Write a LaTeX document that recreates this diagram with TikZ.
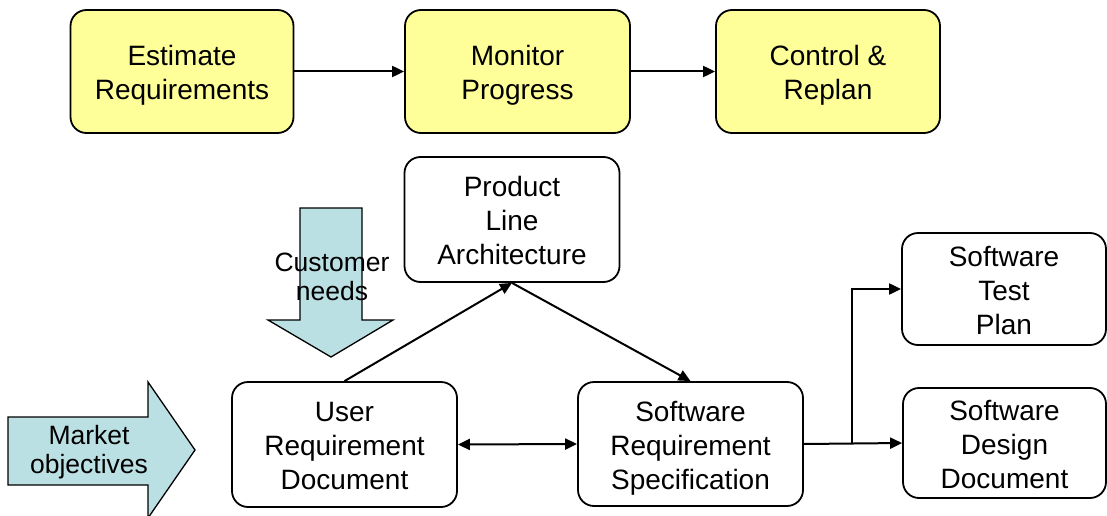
\documentclass[tikz,border=0pt]{standalone}
\usepackage{fontspec}
\setmainfont{Liberation Sans}
\usetikzlibrary{arrows.meta}
\definecolor{boxyellow}{RGB}{255,255,153}
\definecolor{arrowcyan}{RGB}{187,224,228}
\newcommand{\bxt}[1]{\raisebox{-4.5pt}[\height][\depth]{\begin{tabular}{@{}c@{}}#1\end{tabular}}}
\begin{document}
\begin{tikzpicture}[x=1pt,y=-1pt,
  box/.style={draw=black, line width=1.8pt, rounded corners=16pt,
    inner sep=0pt, font=\fontsize{28}{34}\selectfont},
  ybox/.style={box, fill=boxyellow},
  wbox/.style={box, fill=white},
  conn/.style={line width=2pt, -{Triangle[length=12pt,width=11pt]}},
  blk/.style={draw=black, line width=1.3pt, fill=arrowcyan},
  lbl/.style={align=center, inner sep=0pt, font=\fontsize{26.5}{29}\selectfont}]
\useasboundingbox (0,0) rectangle (1107,516);
\fill[white] (0,0) rectangle (1107,516);

% block arrows
\draw[blk] (8,417) -- (148,417) -- (148,382) -- (195,450) -- (148,518) -- (148,485) -- (8,485) -- cycle;
\draw[blk] (300,208) -- (362,208) -- (362,320) -- (393,320) -- (331,357) -- (268,320) -- (300,320) -- cycle;
\node[lbl] (mkt) at (89,452) {Market\\objectives};
\node[lbl] (cust) at (332,277) {Customer\\needs};

% top row
\node[ybox, minimum width=223pt, minimum height=123pt] (est) at (182,71.5) {\bxt{Estimate\\Requirements}};
\node[ybox, minimum width=225pt, minimum height=123pt] (mon) at (517.5,71.5) {\bxt{Monitor\\Progress}};
\node[ybox, minimum width=224pt, minimum height=123pt] (ctl) at (828,71.5) {\bxt{Control \&\\Replan}};
\draw[conn] (est) -- (mon);
\draw[conn] (mon) -- (ctl);

% lower part
\node[wbox, minimum width=215pt, minimum height=125pt] (pla) at (512,219.5) {\bxt{Product\\Line\\Architecture}};
\node[wbox, minimum width=225pt, minimum height=125pt] (urd) at (344.5,444.5) {\bxt{User\\Requirement\\Document}};
\node[wbox, minimum width=225pt, minimum height=124pt] (srs) at (690.5,444) {\bxt{Software\\Requirement\\Specification}};
\node[wbox, minimum width=204pt, minimum height=112pt] (stp) at (1004,289) {\bxt{Software\\Test\\Plan}};
\node[wbox, minimum width=203pt, minimum height=110pt] (sdd) at (1004.5,443) {\bxt{Software\\Design\\Document}};

\draw[conn] (urd.north) -- (pla.south);
\draw[conn] (pla.south) -- (srs.north);
\draw[conn, {Triangle[length=12pt,width=11pt]}-{Triangle[length=12pt,width=11pt]}] (urd.east) -- (srs.west);
\draw[conn] (srs.east) -- (sdd.west);
\coordinate (br) at (852,443);
\draw[conn] (br) |- (stp.west);
\end{tikzpicture}
\end{document}
